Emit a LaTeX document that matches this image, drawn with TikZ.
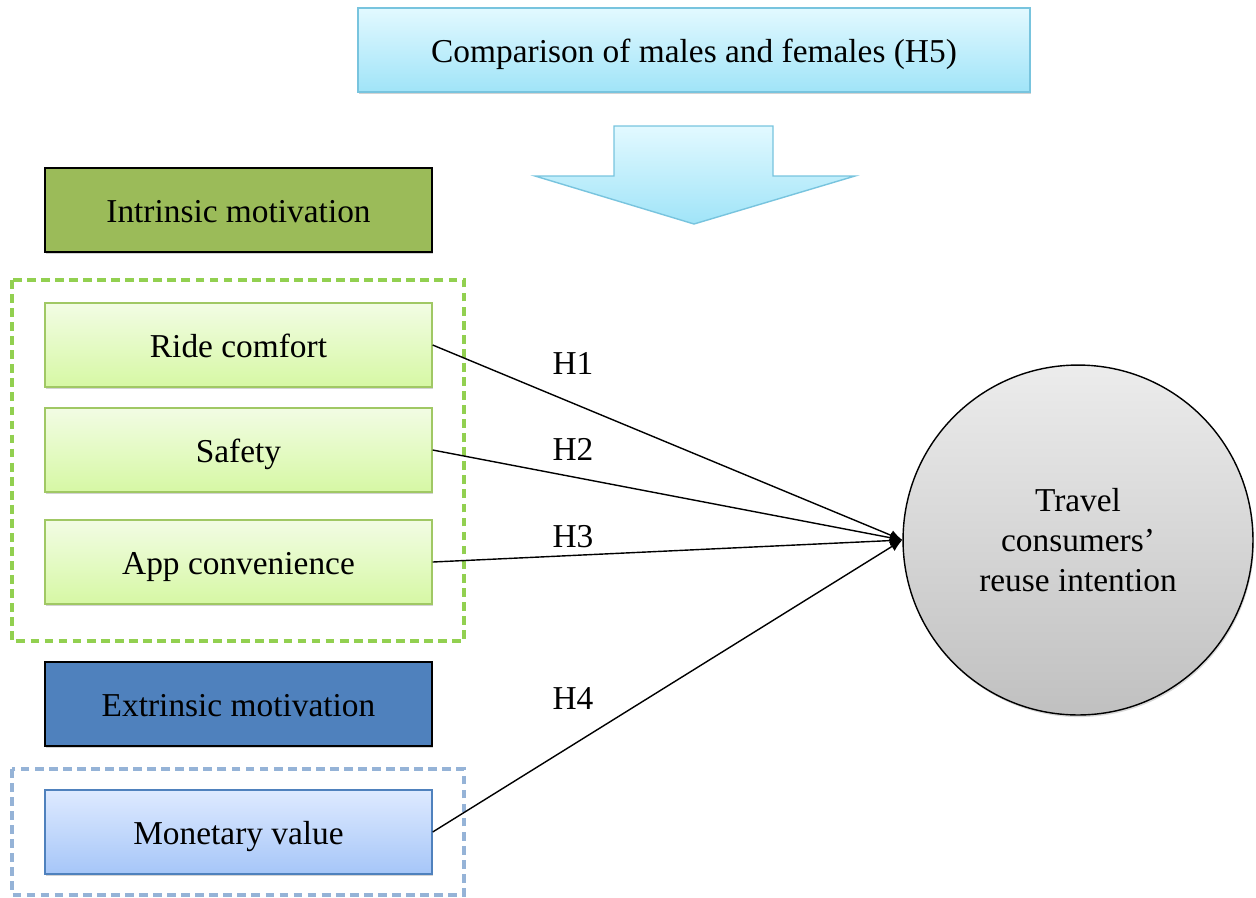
\documentclass[tikz,border=0pt]{standalone}
\usepackage{fontspec}
\setmainfont{Liberation Serif}
\usetikzlibrary{arrows.meta,positioning,shadows}
\definecolor{hTop}{RGB}{226,249,255}
\definecolor{hBot}{RGB}{160,228,248}
\definecolor{hEdge}{RGB}{120,196,222}
\definecolor{inMot}{RGB}{155,187,89}
\definecolor{inTop}{RGB}{242,252,228}
\definecolor{inBot}{RGB}{214,248,164}
\definecolor{inEdge}{RGB}{160,200,100}
\definecolor{inDash}{RGB}{146,208,80}
\definecolor{exMot}{RGB}{79,129,189}
\definecolor{exTop}{RGB}{222,234,255}
\definecolor{exBot}{RGB}{166,198,248}
\definecolor{exDash}{RGB}{149,179,215}
\definecolor{cTop}{RGB}{236,236,236}
\definecolor{cBot}{RGB}{192,192,192}
\tikzset{
  every node/.style={font=\fontsize{19}{23}\selectfont},
  box/.style={rectangle, minimum width=7.74cm, minimum height=1.68cm, inner sep=0pt,
    text height=14pt, text depth=0pt,
    drop shadow={shadow xshift=0.6pt, shadow yshift=-1.2pt, opacity=0.35}},
  motbox/.style={box, draw=black, line width=0.8pt},
  inbox/.style={box, draw=inEdge, line width=0.8pt, top color=inTop, bottom color=inBot},
  exbox/.style={box, draw=exMot, line width=0.8pt, top color=exTop, bottom color=exBot},
  grp/.style={line width=2.2pt, dash pattern=on 5pt off 3pt},
  hpath/.style={-{Latex[length=7pt,width=6pt]}, line width=0.8pt},
  hyp/.style={inner sep=0pt}
}
\begin{document}
\begin{tikzpicture}[x=0.02cm, y=-0.02cm]
    \useasboundingbox (0,0) rectangle (1256,897);

    % moderator on top
    \node[box, minimum width=13.44cm, draw=hEdge, line width=0.8pt, top color=hTop, bottom color=hBot]
        (gender) at (694,50) {Comparison of males and females (H5)};
    \shade[top color=hTop, bottom color=hBot, draw=hEdge, line width=0.8pt]
        (614,126) -- (773,126) -- (773,176) -- (855,176) -- (694,224)
        -- (535,176) -- (614,176) -- cycle;

    % intrinsic motivation
    \draw[grp, draw=inDash] (12,280) rectangle (464,641);
    \node[motbox, fill=inMot] (intr) at (238.5,210) {Intrinsic motivation};
    \node[inbox] (ride) at (238.5,345) {Ride comfort};
    \node[inbox] (safe) at (238.5,450) {Safety};
    \node[inbox] (app)  at (238.5,562) {App convenience};

    % extrinsic motivation
    \draw[grp, draw=exDash, line width=1.8pt] (12,769) rectangle (464,895);
    \node[motbox, fill=exMot] (extr) at (238.5,704) {Extrinsic motivation};
    \node[exbox] (money) at (238.5,832) {Monetary value};

    % outcome
    \node[circle, draw=black, line width=0.8pt, minimum size=7cm, inner sep=0pt,
        top color=cTop, bottom color=cBot, align=center,
        drop shadow={shadow xshift=0.6pt, shadow yshift=-1.2pt, opacity=0.3}]
        (reuse) at (1078,540) {Travel\\consumers’\\reuse intention};

    % hypotheses
    \draw[hpath] (ride.east)  -- (reuse.west);
    \draw[hpath] (safe.east)  -- (reuse.west);
    \draw[hpath] (app.east)   -- (reuse.west);
    \draw[hpath] (money.east) -- (reuse.west);
    \node[hyp] (h1) at (573,363) {H1};
    \node[hyp] (h2) at (573,449) {H2};
    \node[hyp] (h3) at (573,537) {H3};
    \node[hyp] (h4) at (573,698) {H4};
\end{tikzpicture}
\end{document}
